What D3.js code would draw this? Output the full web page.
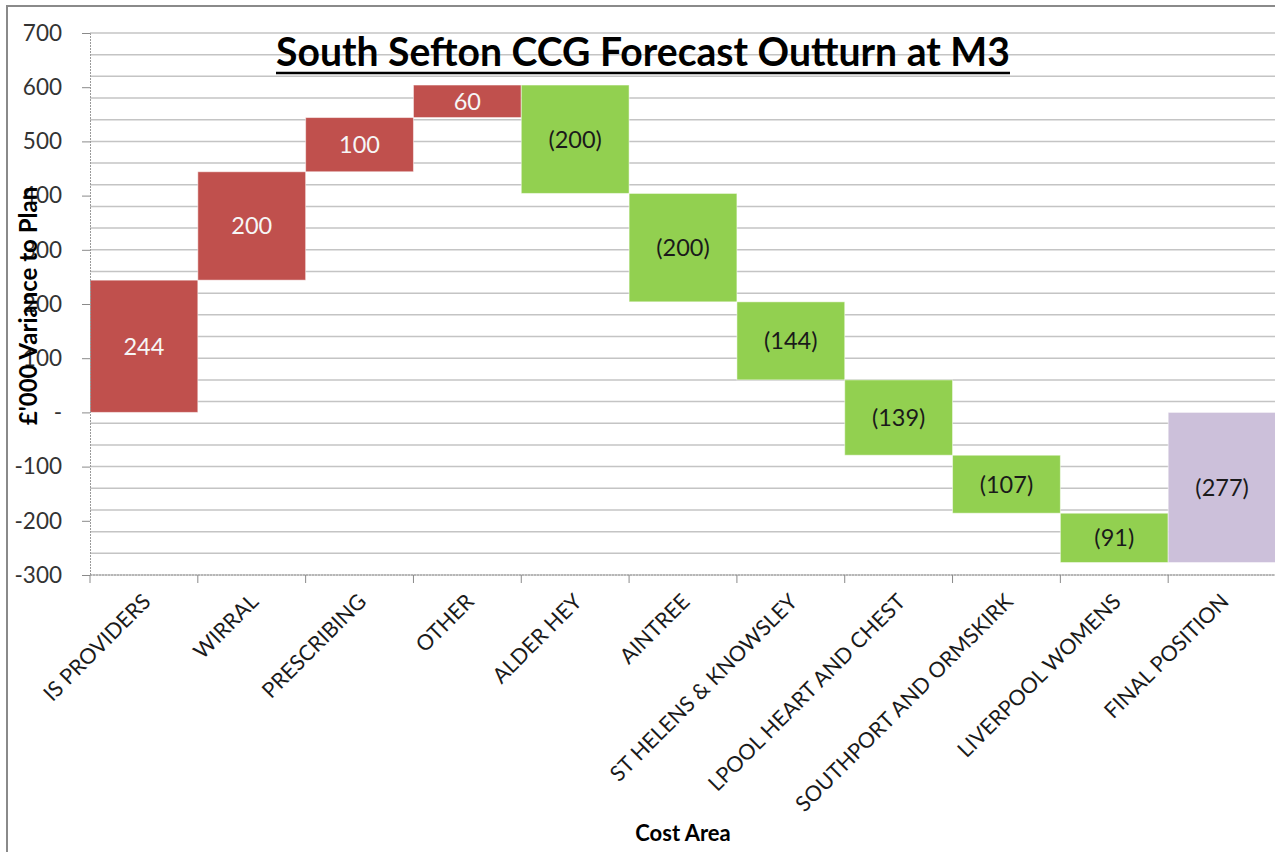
<!DOCTYPE html>
<html>
<head>
<meta charset="utf-8">
<script src="https://cdn.jsdelivr.net/npm/d3@7"></script>
<style>
  body { margin: 0; background: #fff; }
  text { font-family: Lato, "Open Sans", sans-serif; }
</style>
</head>
<body>
<div class="chart"></div>
<script>
const svgWidth = 1275
const svgHeight = 852

// chart data
const categories = ["IS PROVIDERS", "WIRRAL", "PRESCRIBING", "OTHER", "ALDER HEY", "AINTREE",
  "ST HELENS & KNOWSLEY", "LPOOL HEART AND CHEST", "SOUTHPORT AND ORMSKIRK", "LIVERPOOL WOMENS", "FINAL POSITION"]
const values = [244, 200, 100, 60, -200, -200, -144, -139, -107, -91, -277]
const isTotal = [false, false, false, false, false, false, false, false, false, false, true]
const yTicks = [-300, -200, -100, 0, 100, 200, 300, 400, 500, 600, 700]

let margin = { top: 33, bottom: 575, left: 90, right: 1276 }

let svg = d3.select(".chart").append("svg")
  .attr("width", svgWidth)
  .attr("height", svgHeight)

// outer chart frame
svg.append("path")
  .attr("d", `M7,${svgHeight} L7,6 L${svgWidth},6`)
  .attr("fill", "none")
  .attr("stroke", "#8a8a8a")
  .attr("stroke-width", 2)

let x = d3.scaleBand().domain(categories).range([margin.left, margin.right]).padding(0)
let y = d3.scaleLinear().domain([-300, 700]).range([margin.bottom, margin.top])

// gridlines every 40 units from the top
svg.append("g").selectAll("line")
  .data(d3.range(-300, 701, 40))
  .enter().append("line")
  .attr("x1", margin.left).attr("x2", margin.right)
  .attr("y1", d => y(d)).attr("y2", d => y(d))
  .attr("stroke", "#c4c4c4")
  .attr("stroke-width", 1.5)

// waterfall steps
let running = 0
let bars = categories.map((c, i) => {
  let start, end
  if (isTotal[i]) { start = 0; end = values[i] }
  else { start = running; end = running + values[i]; running = end }
  return { cat: c, value: values[i], start: start, end: end, total: isTotal[i] }
})

const colour = d => d.total ? "#ccc0da" : (d.value >= 0 ? "#c0504d" : "#92d050")

svg.append("g").selectAll("rect")
  .data(bars)
  .enter().append("rect")
  .attr("x", d => x(d.cat))
  .attr("width", x.bandwidth())
  .attr("y", d => y(Math.max(d.start, d.end)))
  .attr("height", d => Math.abs(y(d.start) - y(d.end)))
  .attr("fill", colour)
  .attr("stroke", "#ffffff")
  .attr("stroke-opacity", 0.5)
  .attr("stroke-width", 1)

svg.append("g").selectAll("text")
  .data(bars)
  .enter().append("text")
  .attr("x", d => x(d.cat) + x.bandwidth() / 2)
  .attr("y", d => (y(d.start) + y(d.end)) / 2)
  .attr("dy", "0.36em")
  .attr("text-anchor", "middle")
  .attr("font-size", 23.5)
  .attr("fill", d => (!d.total && d.value >= 0) ? "#f6f6f6" : "#1a1a1a")
  .text(d => d.value < 0 ? `(${Math.abs(d.value)})` : d.value)

// y axis
let leftAxis = d3.axisLeft(y)
  .tickValues(yTicks)
  .tickFormat(d => d === 0 ? "-" : d)
  .tickSize(8)
  .tickPadding(20)

let yAxis = svg.append("g")
  .attr("transform", `translate(${margin.left},0)`)
  .call(leftAxis)
yAxis.select(".domain").attr("stroke", "#9a9a9a").attr("stroke-dasharray", "2,1")
yAxis.selectAll(".tick line").attr("stroke", "#8a8a8a")
yAxis.selectAll(".tick text")
  .attr("font-size", 22.5)
  .attr("fill", "#333")
  .style("font-family", "Lato, sans-serif")

// x axis line with boundary ticks
svg.append("line")
  .attr("x1", margin.left).attr("x2", margin.right)
  .attr("y1", y(-300)).attr("y2", y(-300))
  .attr("stroke", "#9a9a9a").attr("stroke-dasharray", "2,1")

svg.append("g").selectAll("line")
  .data(categories)
  .enter().append("line")
  .attr("x1", d => x(d)).attr("x2", d => x(d))
  .attr("y1", y(-300)).attr("y2", y(-300) + 8)
  .attr("stroke", "#8a8a8a")

// category labels, rotated
svg.append("g").selectAll("text")
  .data(categories)
  .enter().append("text")
  .attr("transform", d => `translate(${x(d) + x.bandwidth() / 2 + 8},${y(-300) + 28}) rotate(-45)`)
  .attr("text-anchor", "end")
  .attr("font-size", 21.5)
  .attr("fill", "#1a1a1a")
  .text(d => d)

// title
let title = svg.append("text")
  .attr("x", 643)
  .attr("y", 66)
  .attr("text-anchor", "middle")
  .attr("font-weight", "bold")
  .attr("font-size", 32)
  .attr("fill", "#000")
  .text("South Sefton CCG Forecast Outturn at M3")
let tw = title.node().getComputedTextLength()
title.attr("font-size", 32 * 734 / tw)
svg.append("line")
  .attr("x1", 276).attr("x2", 1010)
  .attr("y1", 73).attr("y2", 73)
  .attr("stroke", "#000").attr("stroke-width", 2.5)

// axis titles
svg.append("text")
  .attr("transform", "translate(37,306) rotate(-90)")
  .attr("text-anchor", "middle")
  .attr("font-weight", "bold")
  .attr("font-size", 24)
  .attr("fill", "#000")
  .text("£'000 Variance to Plan")

svg.append("text")
  .attr("x", 683)
  .attr("y", 841)
  .attr("text-anchor", "middle")
  .attr("font-weight", "bold")
  .attr("font-size", 22)
  .attr("fill", "#000")
  .text("Cost Area")
</script>
</body>
</html>
